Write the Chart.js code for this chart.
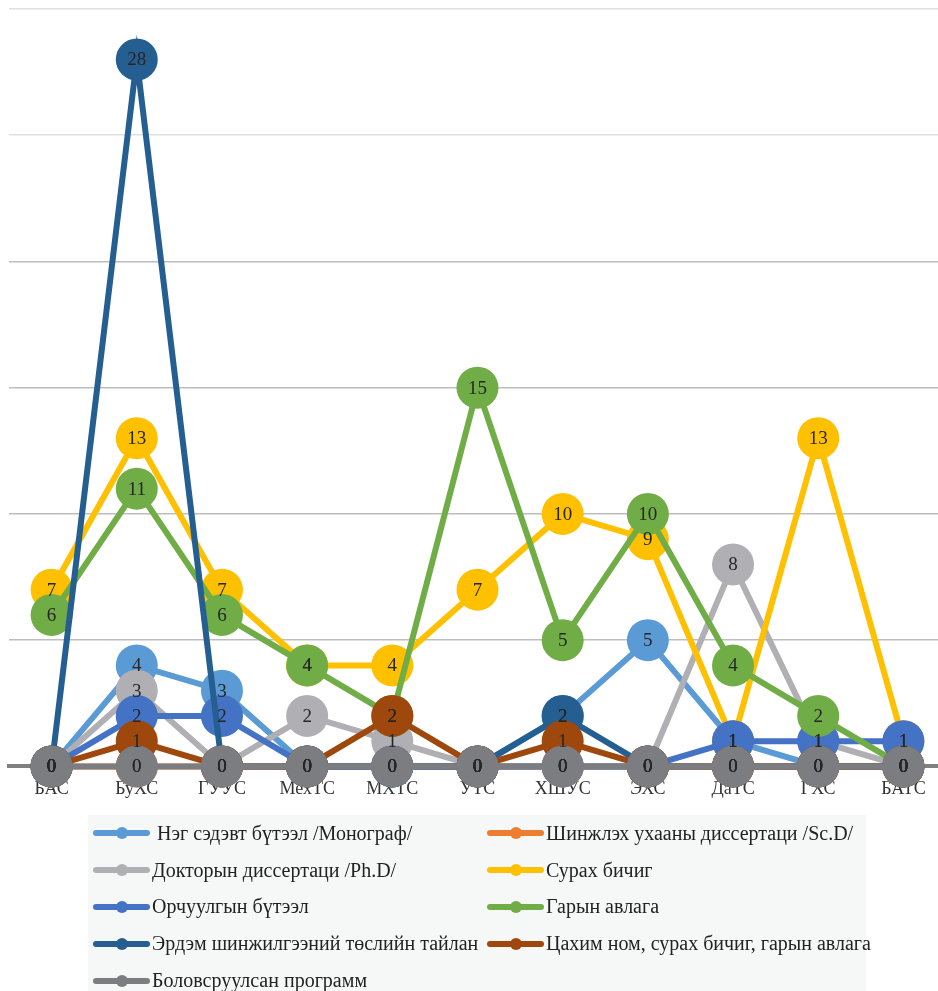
<!DOCTYPE html>
<html>
<head>
<meta charset="utf-8">
<script src="https://cdn.jsdelivr.net/npm/chart.js@4"></script>
<style>
    html, body { margin: 0; padding: 0; background: #fff; overflow: hidden; width: 938px; height: 991px; }
    #wrap { position: absolute; left: 0; top: 0; width: 946px; height: 822px; }
    #legend {
        position: absolute; left: 88px; top: 815px; width: 778px; height: 180px;
        background: #f6f8f8; box-sizing: border-box; padding: 0 0 0 5px;
        display: grid; grid-template-columns: 394px auto; grid-auto-rows: 36.8px;
        font-family: "Liberation Serif", serif; font-size: 20px; color: #222;
    }
    .item { display: flex; align-items: center; white-space: pre; }
    .sw { position: relative; width: 57px; height: 6px; border-radius: 3px; margin-right: 2px; flex: none; }
    .sw i { position: absolute; left: 23px; top: -3px; width: 12px; height: 12px; border-radius: 50%; background: inherit; }
</style>
</head>
<body>
<div id="wrap"><canvas id="chart" width="946" height="822"></canvas></div>
<div id="legend"></div>
<script>
// 系列データ
const categories = ['БАС', 'БуХС', 'ГУУС', 'МехТС', 'МХТС', 'УТС', 'ХШУС', 'ЭХС', 'ДаТС', 'ГХС', 'БАТС'];

const seriesNames = [
    ' Нэг сэдэвт бүтээл /Монограф/',
    'Шинжлэх ухааны диссертаци /Sc.D/',
    'Докторын диссертаци /Ph.D/',
    'Сурах бичиг',
    'Орчуулгын бүтээл',
    'Гарын авлага',
    'Эрдэм шинжилгээний төслийн тайлан',
    'Цахим ном, сурах бичиг, гарын авлага',
    'Боловсруулсан программ'
];

const monograph    = [0, 4, 3, 0, 0, 0, 2, 5, 1, 0, 0];
const scd          = [0, 0, 0, 0, 0, 0, 0, 0, 0, 0, 0];
const phd          = [0, 3, 0, 2, 1, 0, 0, 0, 8, 1, 0];
const textbook     = [7, 13, 7, 4, 4, 7, 10, 9, 1, 13, 1];
const translation  = [0, 2, 2, 0, 0, 0, 0, 0, 1, 1, 1];
const handbook     = [6, 11, 6, 4, 2, 15, 5, 10, 4, 2, 0];
const projectRep   = [0, 28, 0, 0, 0, 0, 2, 0, 0, 0, 0];
const ebook        = [0, 1, 0, 0, 2, 0, 1, 0, 0, 0, 0];
const program      = [0, 0, 0, 0, 0, 0, 0, 0, 0, 0, 0];

const seriesValues = [monograph, scd, phd, textbook, translation, handbook, projectRep, ebook, program];
const seriesColors = ['#5b9bd5', '#ed7d31', '#b0b0b4', '#ffc000', '#4472c4', '#70ad47', '#255e91', '#9e480e', '#7c7d81'];

const yTicks = [0, 5, 10, 15, 20, 25, 30];

// 値ラベル（点の中央に描画）
const valueLabels = {
    id: 'valueLabels',
    afterDatasetsDraw(chart) {
        const ctx = chart.ctx;
        ctx.save();
        ctx.font = '19px "Liberation Serif", serif';
        ctx.fillStyle = '#262626';
        ctx.textAlign = 'center';
        ctx.textBaseline = 'middle';
        chart.data.datasets.forEach((ds, i) => {
            const meta = chart.getDatasetMeta(i);
            meta.data.forEach((pt, j) => {
                ctx.fillText(String(ds.data[j]), pt.x, pt.y + 1);
            });
        });
        ctx.restore();
    }
};

const datasets = seriesNames.map((name, i) => ({
    label: name,
    data: seriesValues[i],
    borderColor: seriesColors[i],
    backgroundColor: seriesColors[i],
    borderWidth: 6,
    pointRadius: 21,
    pointHoverRadius: 21,
    pointBorderWidth: 0,
    tension: 0,
    clip: false,
    order: seriesNames.length - i
}));

new Chart(document.getElementById('chart').getContext('2d'), {
    type: 'line',
    data: { labels: categories, datasets },
    options: {
        responsive: false,
        animation: false,
        layout: { autoPadding: false, padding: { left: 9, top: 9, right: 0, bottom: 10 } },
        plugins: {
            legend: { display: false },
            tooltip: { enabled: false }
        },
        scales: {
            x: {
                offset: true,
                grid: { display: false, drawTicks: false },
                border: { display: true, color: '#808080', width: 4 },
                ticks: {
                    color: '#333',
                    font: { family: '"Liberation Serif", serif', size: 18 },
                    padding: 12,
                    maxRotation: 0,
                    autoSkip: false
                }
            },
            y: {
                min: yTicks[0],
                max: yTicks[yTicks.length - 1],
                afterBuildTicks: (scale) => { scale.ticks = yTicks.map(v => ({ value: v })); },
                ticks: { display: false },
                grid: {
                    drawTicks: false,
                    lineWidth: 1.5,
                    color: (c) => (c.tick && c.tick.value >= 25 ? '#e0e0e0' : '#bdbdbd')
                },
                border: { display: false }
            }
        }
    },
    plugins: [valueLabels]
});

// 凡例（2列）
const legendEl = document.getElementById('legend');
seriesNames.forEach((name, i) => {
    const item = document.createElement('div');
    item.className = 'item';
    item.innerHTML = `<span class="sw" style="background:${seriesColors[i]}"><i></i></span><span>${name}</span>`;
    legendEl.appendChild(item);
});
</script>
</body>
</html>
